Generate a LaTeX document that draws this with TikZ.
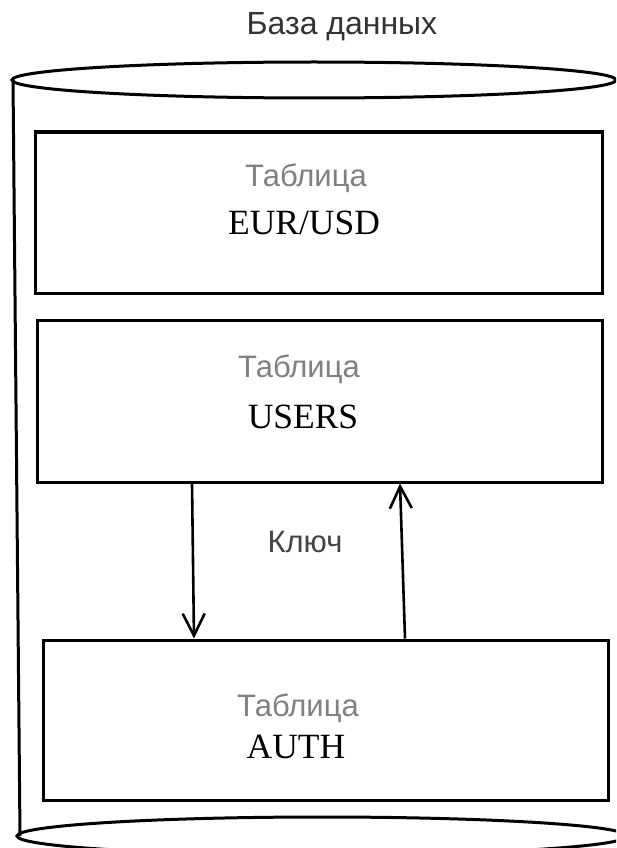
\documentclass[tikz,border=0pt]{standalone}
\usepackage{fontspec}
\setmainfont{Liberation Serif}
\newfontfamily\sansf{Liberation Sans}
\usetikzlibrary{arrows.meta}
\definecolor{capgray}{HTML}{808080}
\definecolor{titlegray}{HTML}{333333}
\definecolor{keygray}{HTML}{444444}
\tikzset{
  tbl/.style={draw=black, line width=3pt, fill=white, minimum width=565pt, inner sep=0pt},
  cylline/.style={draw=black, line width=3pt},
  arr/.style={draw=black, line width=2.6pt, -{Straight Barb[length=22pt,width=22pt,line width=2.6pt]}},
  tcap/.style={font=\sansf\fontsize{31}{36}\selectfont, text=capgray, inner sep=0pt, anchor=base},
  tname/.style={font=\fontsize{35.5}{40}\selectfont, text=black, inner sep=0pt, anchor=base},
}
\begin{document}
\begin{tikzpicture}[x=1pt,y=-1pt]
\useasboundingbox (0,0) rectangle (616,848);
\clip (0,0) rectangle (616,848);
\fill[white] (0,0) rectangle (616,848);
% cylinder
\draw[cylline] (13,80) -- (20,836);
\draw[cylline] (314,80) ellipse [x radius=302, y radius=18];
\draw[cylline] (322,836) ellipse [x radius=305, y radius=19];
\node[font=\sansf\fontsize{32}{36}\selectfont, text=titlegray, inner sep=0pt, anchor=base] (title) at (342,35) {База данных};
% tables
\node[tbl, minimum width=567pt, minimum height=161pt] (t1) at (318.5,212.5) {};
\node[tbl, minimum height=162pt] (t2) at (319.5,401) {};
\node[tbl, minimum height=160pt] (t3) at (325.5,720) {};
\node[tcap] (c1) at (306,186) {Таблица};
\node[tname] (n1) at (304,234) {EUR/USD};
\node[tcap] (c2) at (299,377) {Таблица};
\node[tname] (n2) at (303,428) {USERS};
\node[tcap] (c3) at (298,716) {Таблица};
\node[tname] (n3) at (296,758) {AUTH};
% arrows
\coordinate (a1s) at ([xshift=-127.5pt]t2.south);
\coordinate (a1e) at ([xshift=-131.5pt]t3.north);
\coordinate (a2s) at ([xshift=79.5pt]t3.north);
\coordinate (a2e) at ([xshift=80.5pt]t2.south);
\draw[arr] (a1s) -- (a1e);
\draw[arr] (a2s) -- (a2e);
\node[font=\sansf\fontsize{31}{36}\selectfont, text=keygray, inner sep=0pt, anchor=base] (key) at (305,552) {Ключ};
\end{tikzpicture}
\end{document}
